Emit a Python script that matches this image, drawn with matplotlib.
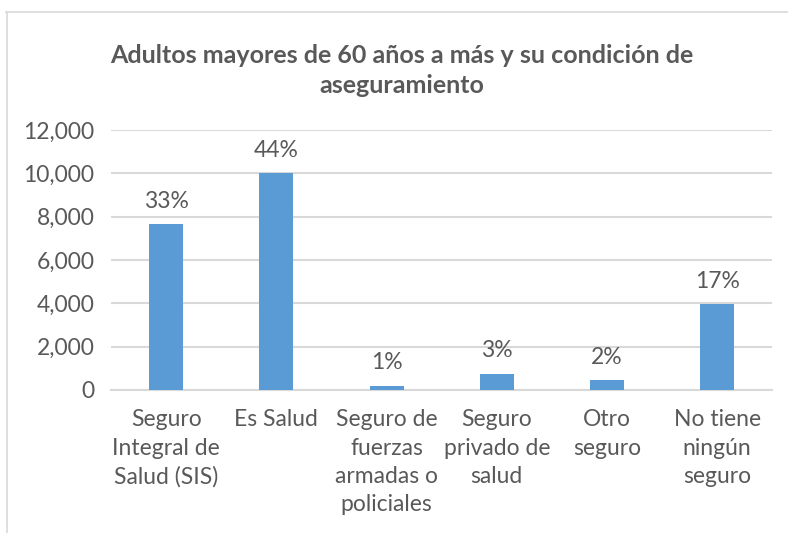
import matplotlib.pyplot as plt
from matplotlib.lines import Line2D
from matplotlib.ticker import FuncFormatter

# -------------------------
# データ
# -------------------------
categories = [
    "Seguro\nIntegral de\nSalud (SIS)",
    "Es Salud",
    "Seguro de\nfuerzas\narmadas o\npoliciales",
    "Seguro\nprivado de\nsalud",
    "Otro\nseguro",
    "No tiene\nningún\nseguro",
]
values = [7650, 10000, 200, 740, 460, 3950]
pct_labels = ["33%", "44%", "1%", "3%", "2%", "17%"]
yticks = [0, 2000, 4000, 6000, 8000, 10000, 12000]

title = "Adultos mayores de 60 años a más y su condición de\naseguramiento"
bar_color = "#5B9BD5"
text_color = "#595959"
grid_color = "#D9D9D9"

plt.rcParams["font.family"] = ["Lato", "DejaVu Sans"]

fig = plt.figure(figsize=(7.88, 5.33), dpi=100)
ax = fig.add_axes([0.141, 0.2683, 0.839, 0.4878])

x = range(len(categories))
bars = ax.bar(x, values, width=0.31, color=bar_color, zorder=3)
ax.bar_label(bars, labels=pct_labels, padding=9, fontsize=16.5, color=text_color)

ax.set_xlim(-0.5, len(categories) - 0.5)
ax.set_ylim(0, 12000)
ax.set_yticks(yticks)
ax.yaxis.set_major_formatter(FuncFormatter(lambda v, p: f"{int(v):,}"))
ax.set_xticks(list(x))
ax.set_xticklabels(categories, linespacing=1.42)

ax.tick_params(axis="both", length=0, labelsize=16.5, colors=text_color)
ax.tick_params(axis="x", pad=14)
ax.tick_params(axis="y", pad=12)
ax.grid(axis="y", color=grid_color, linewidth=1.5, zorder=0)
for s in ["top", "right", "left"]:
    ax.spines[s].set_visible(False)
ax.spines["bottom"].set_color(grid_color)
ax.spines["bottom"].set_linewidth(1.5)

fig.text(0.51, 0.868, title, ha="center", va="center", fontsize=18,
         fontweight="bold", color=text_color, linespacing=1.4)

# 枠線（上と左のみ）
fig.add_artist(Line2D([0.008, 1.0], [0.978, 0.978], color=grid_color, lw=1.2))
fig.add_artist(Line2D([0.009, 0.009], [0.0, 0.978], color=grid_color, lw=1.2))

fig.savefig("out.png", dpi=100)
